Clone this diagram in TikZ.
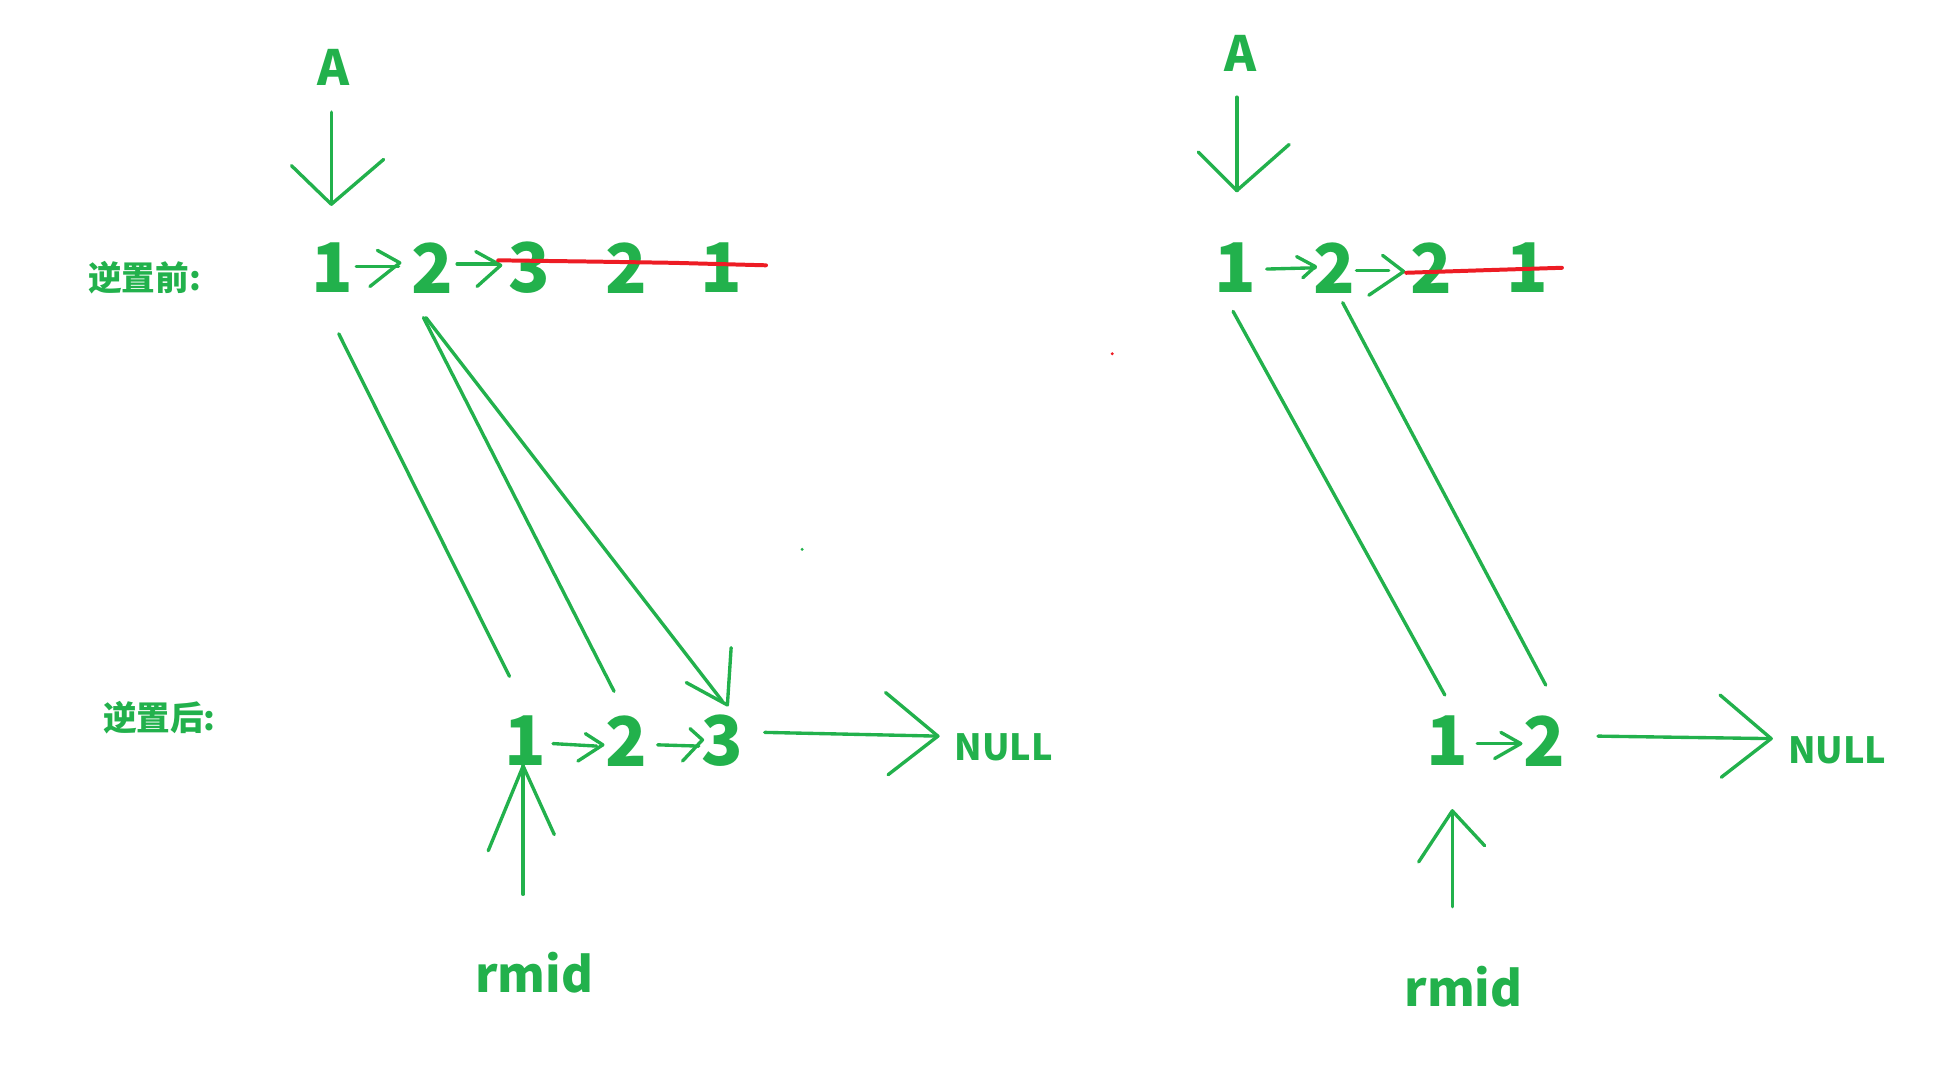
\documentclass[tikz,border=0pt]{standalone}
\usepackage{fontspec}
\newfontfamily\cjk{Noto Sans CJK SC}
\definecolor{pg}{HTML}{22B14C}
\definecolor{pr}{HTML}{ED1C24}
\begin{document}
\begin{tikzpicture}[x=1pt,y=-1pt,line cap=round,line join=round,
  stroke/.style={draw=pg,line width=2.7pt},
  redline/.style={draw=pr,line width=3.2pt},
  digit/.style={text=pg,font=\cjk\bfseries\fontsize{55}{55}\selectfont,inner sep=0pt},
  bigtxt/.style={text=pg,font=\cjk\bfseries\fontsize{39}{39}\selectfont,inner sep=0pt},
  labtxt/.style={text=pg,font=\cjk\bfseries\fontsize{27}{27}\selectfont,inner sep=0pt},
  nulltxt/.style={text=pg,font=\cjk\bfseries\fontsize{29}{29}\selectfont,inner sep=0pt}]
\useasboundingbox (0,0) rectangle (1568,855);

% ---------------- left part ----------------
\node[bigtxt] (A1) at (268,54) {A};
\node[labtxt] (pre1) at (116,223) {逆置前:};
\node[labtxt] (post1) at (128,576) {逆置后:};
\node[digit] (t1) at (267,215) {1};
\node[digit] (t2) at (347,215) {2};
\node[digit] (t3) at (425,215) {3};
\node[digit] (t4) at (503,215) {2};
\node[digit] (t5) at (579,215) {1};
\node[digit] (b1) at (422,595) {1};
\node[digit] (b2) at (503,595) {2};
\node[digit] (b3) at (580,595) {3};
\node[nulltxt] (n1) at (806,600) {NULL};
\node[bigtxt] (r1) at (429,781) {rmid};

% A arrow
\coordinate (a1s) at (266,90);
\coordinate (a1t) at (266,164);
\draw[stroke] (a1s) -- (a1t);
\draw[stroke] (234,133) -- (a1t) -- (308,128);

% top chevrons
\draw[stroke] (286,214) -- (320,214);
\draw[stroke] (303,201) -- (321,211) -- (297,230);
\draw[stroke] (367,212) -- (400,212);
\draw[stroke] (382,202) -- (402,213) -- (383,230);

% red strike
\draw[redline] (400,209) -- (475,210) -- (540,211) -- (615,213);

% slanted lines
\coordinate (l1s) at (272,268); \coordinate (l1e) at (409,543);
\coordinate (l2s) at (340,255); \coordinate (l2e) at (493,555);
\coordinate (l3s) at (342,255); \coordinate (l3e) at (580,563);
\draw[stroke] (l1s) -- (l1e);
\draw[stroke] (l2s) -- (l2e);
\draw[stroke] (l3s) -- (l3e);
\draw[stroke] (587,520) -- (584,566) -- (551,548);

% bottom chevrons
\draw[stroke] (444,597) -- (479,599);
\draw[stroke] (470,589) -- (484,598) -- (464,611);
\draw[stroke] (528,598) -- (561,599);
\draw[stroke] (554,585) -- (564,594) -- (548,611);

% NULL arrow
\coordinate (nu1s) at (614,588);
\coordinate (nu1t) at (753,591);
\draw[stroke] (nu1s) -- (nu1t);
\draw[stroke] (711,556) -- (nu1t) -- (713,622);

% rmid arrow
\coordinate (rm1s) at (420,718);
\coordinate (rm1t) at (420,615);
\draw[stroke] (rm1s) -- (rm1t);
\draw[stroke] (392,683) -- (rm1t) -- (445,670);

% stray dots
\fill[pg] (644,441) circle (1.3);
\fill[pr] (893,284) circle (1.3);

% ---------------- right part ----------------
\node[bigtxt] (A2) at (996,43) {A};
\node[digit] (u1) at (992,215) {1};
\node[digit] (u2) at (1071,215) {2};
\node[digit] (u3) at (1149,215) {2};
\node[digit] (u4) at (1226,215) {1};
\node[digit] (c1) at (1162,595) {1};
\node[digit] (c2) at (1240,595) {2};
\node[nulltxt] (n2) at (1475,602) {NULL};
\node[bigtxt] (r2) at (1175,792) {rmid};

% A arrow
\coordinate (a2s) at (993,78);
\coordinate (a2t) at (993,153);
\draw[stroke] (a2s) -- (a2t);
\draw[stroke] (962,122) -- (a2t) -- (1035,116);

% top chevrons
\draw[stroke] (1017,216) -- (1056,215);
\draw[stroke] (1041,206) -- (1056,214) -- (1046,223);
\draw[stroke] (1089,217) -- (1115,217);
\draw[stroke] (1110,205) -- (1127,218) -- (1099,237);

% red strike
\draw[redline] (1129,219) -- (1190,217) -- (1254,215);

% slanted lines
\coordinate (m1s) at (990,250); \coordinate (m1e) at (1160,558);
\coordinate (m2s) at (1078,243); \coordinate (m2e) at (1241,550);
\draw[stroke] (m1s) -- (m1e);
\draw[stroke] (m2s) -- (m2e);

% bottom chevron
\draw[stroke] (1186,597) -- (1220,597);
\draw[stroke] (1205,588) -- (1221,597) -- (1200,609);

% NULL arrow
\coordinate (nu2s) at (1283,591);
\coordinate (nu2t) at (1422,593);
\draw[stroke] (nu2s) -- (nu2t);
\draw[stroke] (1381,558) -- (nu2t) -- (1382,624);

% rmid arrow
\coordinate (rm2s) at (1166,728);
\coordinate (rm2t) at (1166,651);
\draw[stroke] (rm2s) -- (rm2t);
\draw[stroke] (1139,692) -- (rm2t) -- (1192,679);
\end{tikzpicture}
\end{document}
